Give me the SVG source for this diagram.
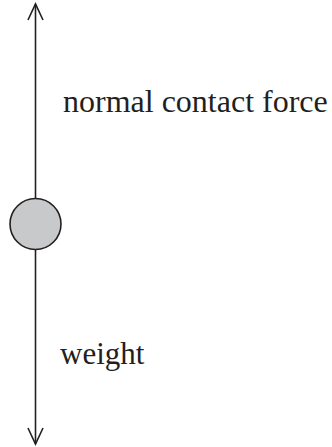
<svg xmlns="http://www.w3.org/2000/svg" width="332" height="447" viewBox="0 0 332 447">
<style>
.ln{stroke:#231f20;stroke-width:1.6;fill:none}
.hd{stroke:#231f20;stroke-width:1.6;fill:none;stroke-linejoin:miter}
.lbl{font-family:"Liberation Serif","Times New Roman",serif;font-size:31px;fill:#231f20}
</style>
<rect width="332" height="447" fill="#fff"/>
<g id="connectors">
<line class="ln" x1="35.5" y1="4" x2="35.5" y2="198"/>
<polyline class="hd" points="28,20 35.5,4 43,20"/>
<line class="ln" x1="35.5" y1="250" x2="35.5" y2="444"/>
<polyline class="hd" points="28,428 35.5,444 43,428"/>
</g>
<g id="body">
<circle cx="35.5" cy="224" r="25.5" fill="#c8c9cb" stroke="#231f20" stroke-width="1.6"/>
</g>
<g id="label-normal">
<text class="lbl" x="63" y="112" style="font-size:32px">normal contact force</text>
</g>
<g id="label-weight">
<text class="lbl" x="60" y="364">weight</text>
</g>
</svg>
